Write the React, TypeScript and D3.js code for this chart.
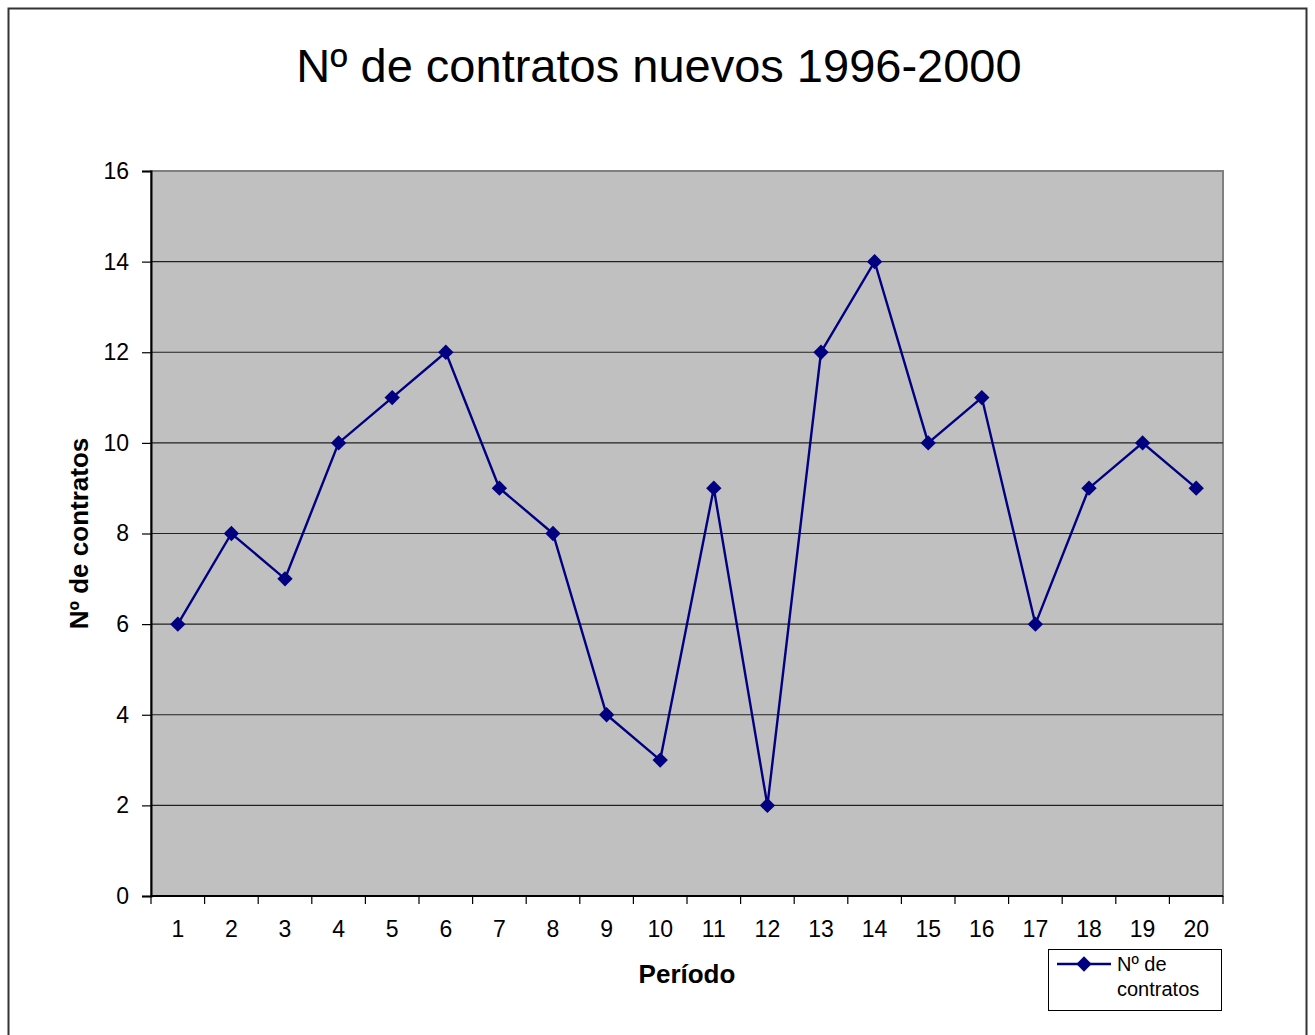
import React, { useRef, useEffect } from 'react';
import * as d3 from 'd3';

const periods = d3.range(1, 21).map(String);
const contratos = [6, 8, 7, 10, 11, 12, 9, 8, 4, 3, 9, 2, 12, 14, 10, 11, 6, 9, 10, 9];
const yTicks = [0, 2, 4, 6, 8, 10, 12, 14, 16];

const title = 'Nº de contratos nuevos 1996-2000';
const xTitle = 'Período';
const yTitle = 'Nº de contratos';
const legendLines = ['Nº de', 'contratos'];

const App = () => {
    const svgRef = useRef<SVGSVGElement>(null);

    useEffect(() => {
        const svg = d3.select(svgRef.current);
        svg.selectAll('*').remove();

        const width = 1315;
        const height = 1035;
        const plot = { left: 151, right: 1223, top: 171, bottom: 896 };
        const font = 'Arial, "Liberation Sans", sans-serif';
        const navy = '#000080';

        svg.attr('width', width).attr('height', height).style('font-family', font);

        // chart area border
        svg.append('rect')
            .attr('x', 8.5).attr('y', 8.5)
            .attr('width', 1298).attr('height', 1040)
            .attr('fill', '#fff').attr('stroke', '#333').attr('stroke-width', 2);

        // scales
        const x = d3.scaleBand().domain(periods).range([plot.left, plot.right]);
        const y = d3.scaleLinear().domain([0, 16]).range([plot.bottom, plot.top]);

        // plot background
        svg.append('rect')
            .attr('x', plot.left).attr('y', plot.top)
            .attr('width', plot.right - plot.left).attr('height', plot.bottom - plot.top)
            .attr('fill', '#c0c0c0').attr('stroke', '#808080').attr('stroke-width', 2);

        // grid lines
        svg.append('g')
            .selectAll('line')
            .data(yTicks.filter(d => d > 0 && d < 16))
            .join('line')
            .attr('x1', plot.left).attr('x2', plot.right)
            .attr('y1', d => y(d)).attr('y2', d => y(d))
            .attr('stroke', '#222').attr('stroke-width', 1.2);

        // y axis
        const yAxis = d3.axisLeft(y).tickValues(yTicks).tickSize(9).tickPadding(13);
        svg.append('g')
            .attr('transform', `translate(${plot.left},0)`)
            .call(yAxis)
            .call(g => g.select('.domain').attr('stroke', '#000').attr('stroke-width', 2))
            .call(g => g.selectAll('.tick line').attr('stroke', '#000').attr('stroke-width', 1.2))
            .call(g => g.selectAll('.tick text')
                .attr('fill', '#000').style('font-size', '23px').style('font-family', font));

        // x axis line + boundary ticks
        const xg = svg.append('g');
        xg.append('line')
            .attr('x1', plot.left).attr('x2', plot.right)
            .attr('y1', plot.bottom).attr('y2', plot.bottom)
            .attr('stroke', '#000').attr('stroke-width', 2);
        const bounds = periods.map(p => x(p)!).concat([plot.right]);
        xg.selectAll('line.tk')
            .data(bounds)
            .join('line')
            .attr('class', 'tk')
            .attr('x1', d => d).attr('x2', d => d)
            .attr('y1', plot.bottom).attr('y2', plot.bottom + 8)
            .attr('stroke', '#000').attr('stroke-width', 1.2);
        xg.selectAll('text')
            .data(periods)
            .join('text')
            .attr('x', d => x(d)! + x.bandwidth() / 2)
            .attr('y', 937)
            .attr('text-anchor', 'middle')
            .style('font-size', '23px')
            .text(d => d);

        // line + markers
        const pts = periods.map((p, i) => ({ p, v: contratos[i] }));
        const line = d3.line<{ p: string; v: number }>()
            .x(d => x(d.p)! + x.bandwidth() / 2)
            .y(d => y(d.v));
        svg.append('path')
            .datum(pts)
            .attr('fill', 'none')
            .attr('stroke', navy)
            .attr('stroke-width', 2.4)
            .attr('d', line);

        const diamond = d3.symbol().type(d3.symbolDiamond2).size(150);
        svg.append('g')
            .selectAll('path')
            .data(pts)
            .join('path')
            .attr('transform', d => `translate(${x(d.p)! + x.bandwidth() / 2},${y(d.v)})`)
            .attr('d', diamond)
            .attr('fill', navy);

        // titles
        svg.append('text')
            .attr('x', 659).attr('y', 82)
            .attr('text-anchor', 'middle')
            .style('font-size', '47px')
            .text(title);

        svg.append('text')
            .attr('x', (plot.left + plot.right) / 2).attr('y', 983)
            .attr('text-anchor', 'middle')
            .style('font-size', '26px').style('font-weight', 'bold')
            .text(xTitle);

        svg.append('text')
            .attr('transform', `translate(88,${(plot.top + plot.bottom) / 2}) rotate(-90)`)
            .attr('text-anchor', 'middle')
            .style('font-size', '26px').style('font-weight', 'bold')
            .text(yTitle);

        // legend
        const lg = svg.append('g');
        lg.append('rect')
            .attr('x', 1048.5).attr('y', 949.5).attr('width', 173).attr('height', 61)
            .attr('fill', '#fff').attr('stroke', '#000').attr('stroke-width', 1);
        lg.append('line')
            .attr('x1', 1057).attr('x2', 1111).attr('y1', 964).attr('y2', 964)
            .attr('stroke', navy).attr('stroke-width', 2.4);
        lg.append('path')
            .attr('transform', 'translate(1084,964)')
            .attr('d', diamond)
            .attr('fill', navy);
        lg.selectAll('text')
            .data(legendLines)
            .join('text')
            .attr('x', 1117)
            .attr('y', (d, i) => 971 + i * 25)
            .style('font-size', '20px')
            .text(d => d);
    }, []);

    return (
        <div style={{ position: 'absolute', left: 0, top: 0 }}>
            <svg ref={svgRef}></svg>
        </div>
    );
};

export default App;
